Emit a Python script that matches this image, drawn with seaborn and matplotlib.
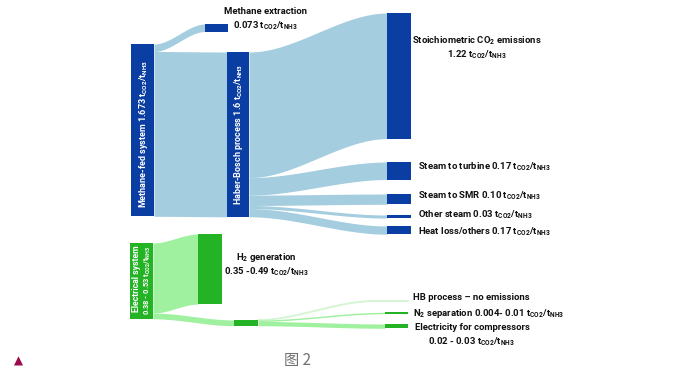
import numpy as np
import matplotlib
matplotlib.use("Agg")
import matplotlib.pyplot as plt
import seaborn as sns

# ---------------- data ----------------
methane_system_total = 1.673
methane_extraction = 0.073
haber_bosch_total = 1.6
hb_output_names = ["Stoichiometric CO$_\\mathregular{2}$ emissions", "Steam to turbine",
                   "Steam to SMR", "Other steam", "Heat loss/others"]
hb_output_labels = ["1.22", "0.17", "0.10", "0.03", "0.17"]      # printed values
hb_output_drawn = [1.22, 0.17, 0.10, 0.03, 0.08]                  # band widths as drawn

electrical_range = (0.38, 0.53)
h2_range = (0.35, 0.49)
n2_range = (0.004, 0.01)
compressor_range = (0.02, 0.03)
hb_electric_emission = 0.0

UNIT = "t$_\\mathregular{CO2}$/t$_\\mathregular{NH3}$"

# ---------------- style ----------------
sns.set_theme(style="white")
plt.rcParams["font.family"] = ["Roboto", "DejaVu Sans"]
plt.rcParams["mathtext.fontset"] = "custom"
plt.rcParams["mathtext.rm"] = "Roboto:bold"
plt.rcParams["mathtext.bf"] = "Roboto:bold"
plt.rcParams["mathtext.it"] = "Roboto:bold"

NODE_BLUE = "#0b3ea3"
FLOW_BLUE = "#a5cde0"
NODE_GREEN = "#24b324"
FLOW_GREEN = "#9ff09f"
PALE_GREEN = "#d2f5d2"

SM = 103.0   # px per unit, methane system
SE = 143.0   # px per unit, electrical system

fig = plt.figure(figsize=(6.86, 3.87), dpi=100)
ax = fig.add_axes([0, 0, 1, 1])
ax.set_xlim(0, 686)
ax.set_ylim(387, 0)
ax.axis("off")


def node(x0, x1, top, value, scale, color):
    ax.bar((x0 + x1) / 2, value * scale, bottom=top, width=x1 - x0,
           color=color, linewidth=0, zorder=3)
    return top + value * scale


def band(x0, y0, x1, y1, value, scale, color, zorder=1):
    h = value * scale
    x = np.linspace(x0, x1, 200)
    t = (x - x0) / (x1 - x0)
    s = t * t * (3 - 2 * t)
    top = y0 + (y1 - y0) * s
    ax.fill_between(x, top, top + h, color=color, linewidth=0, zorder=zorder)


# ---------------- methane system ----------------
MX = (131, 154)
EXX = (205, 228)
HBX = (227, 249)
RX = (387, 411)

m_top = 44
node(*MX, m_top, methane_system_total, SM, NODE_BLUE)
ex_top = 24
node(*EXX, ex_top, methane_extraction, SM, NODE_BLUE)
hb_top = 52
node(*HBX, hb_top, haber_bosch_total, SM, NODE_BLUE)

band(MX[1], m_top, EXX[0], ex_top, methane_extraction, SM, FLOW_BLUE)
band(MX[1], m_top + methane_extraction * SM, HBX[0], hb_top, haber_bosch_total, SM, FLOW_BLUE)

right_tops = [13, 162, 194, 215, 226]
y_src = hb_top
for val, rt in zip(hb_output_drawn, right_tops):
    band(HBX[1], y_src, RX[0], rt, val, SM, FLOW_BLUE)
    node(*RX, rt, val, SM, NODE_BLUE)
    y_src += val * SM

# ---------------- electrical system ----------------
EX = (130, 153)
H2X = (198, 222)
SX = (234, 258)
GX = (385, 408)

e_top = 243
lower_total = n2_range[1] + compressor_range[1]
node(*EX, e_top, h2_range[1] + lower_total, SE, NODE_GREEN)
h2_top = 234
node(*H2X, h2_top, h2_range[1], SE, NODE_GREEN)
band(EX[1], e_top, H2X[0], h2_top, h2_range[1], SE, FLOW_GREEN)

s_top = 320
band(EX[1], e_top + h2_range[1] * SE, SX[0], s_top, lower_total, SE, FLOW_GREEN)
node(*SX, s_top, lower_total, SE, NODE_GREEN)

# HB process - no emissions: faint line
x = np.linspace(SX[1], 375, 200)
t = (x - SX[1]) / (375 - SX[1])
s = t * t * (3 - 2 * t)
yl = s_top + (301 - s_top) * s + hb_electric_emission * SE
ax.plot(np.r_[x, GX[1]], np.r_[yl, 301], color=PALE_GREEN, lw=1.3, zorder=1)

n2_top = 312.3
band(SX[1], s_top, GX[0], n2_top, n2_range[1], SE, FLOW_GREEN)
node(*GX, n2_top, n2_range[1], SE, NODE_GREEN)
comp_top = 324
band(SX[1], s_top + n2_range[1] * SE, GX[0], comp_top, compressor_range[1], SE, FLOW_GREEN)
node(*GX, comp_top, compressor_range[1], SE, NODE_GREEN)

# ---------------- text ----------------
FS = 6.8
tk = dict(fontsize=FS, fontweight="bold", color="#111111")
ax.text(265, 11, "Methane extraction", ha="center", va="center", **tk)
ax.text(265, 25.5, f"{methane_extraction:.3f} " + UNIT, ha="center", va="center", **tk)

ax.text(477, 41, hb_output_names[0], ha="center", va="center", **tk)
ax.text(477, 55, f"{hb_output_labels[0]} " + UNIT, ha="center", va="center", **tk)
label_y = [None, 167, 196, 214.5, 232]
for name, lab, ly in zip(hb_output_names[1:], hb_output_labels[1:], label_y[1:]):
    ax.text(418, ly, f"{name} {lab} " + UNIT, ha="left", va="center", **tk)

wt = dict(fontsize=6.5, fontweight="bold", color="white", rotation=90,
          ha="center", va="center", zorder=5)
ax.text(143, 134, f"Methane-fed system {methane_system_total} " + UNIT, **wt)
ax.text(238.5, 134.5, f"Haber-Bosch process {haber_bosch_total:g} " + UNIT, **wt)
ax.text(136.5, 279, "Electrical system", **dict(wt, fontsize=6.3))
ax.text(147.5, 280.5, f"{electrical_range[0]:g} - {electrical_range[1]:g} " + UNIT,
        **dict(wt, fontsize=5.4))

ax.text(266, 257, "H$_\\mathregular{2}$ generation", ha="center", va="center", **tk)
ax.text(266, 271.5, f"{h2_range[0]:g} -{h2_range[1]:g} " + UNIT, ha="center", va="center", **tk)

ax.text(413, 298, "HB process – no emissions", ha="left", va="center", **tk)
ax.text(413, 313, f"N$_\\mathregular{{2}}$ separation {n2_range[0]:g}- {n2_range[1]:g} " + UNIT,
        ha="left", va="center", **tk)
ax.text(472, 328, "Electricity for compressors", ha="center", va="center", **tk)
ax.text(472, 342, f"{compressor_range[0]:g} - {compressor_range[1]:g} " + UNIT,
        ha="center", va="center", **tk)

# caption
ax.text(18.5, 361, "▲", ha="center", va="center", fontsize=8.5, color="#9b0a4b",
        family="DejaVu Sans")
ax.text(298, 361, "图 2", ha="center", va="center", fontsize=11, color="#707070",
        family=["Noto Sans CJK SC", "DejaVu Sans"])

fig.savefig("out.png", dpi=100)
